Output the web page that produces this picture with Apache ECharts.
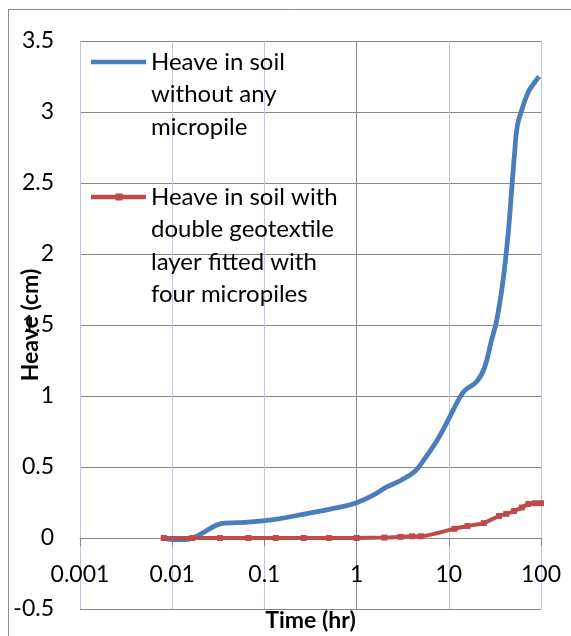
<!DOCTYPE html>
<html><head><meta charset="utf-8">
<script src="https://cdn.jsdelivr.net/npm/echarts@6/dist/echarts.min.js"></script>
<style>html,body{margin:0;padding:0;background:#fff}#c{width:571px;height:636px}</style>
</head><body><div id="c"></div>
<script>
// Series names
const seriesNames = [
  'Heave in soil\nwithout any\nmicropile',
  'Heave in soil with\ndouble geotextile\nlayer fitted with\nfour micropiles'
];
// Blue: heave in soil without any micropile
const blueTime  = [0.0081, 0.01, 0.0135, 0.0168, 0.022, 0.03, 0.037, 0.05, 0.067, 0.136, 0.28, 0.49, 0.8, 1, 1.5, 2.1, 3.0, 4.3, 5.5, 7.5, 10, 12.9, 15, 20, 24.4, 29, 33, 38.5, 44, 48.3, 51.4, 55.3, 61.6, 72.7, 83.4, 95.5];
const blueHeave = [0, -0.012, -0.012, 0, 0.04, 0.09, 0.105, 0.108, 0.112, 0.133, 0.17, 0.2, 0.23, 0.248, 0.3, 0.358, 0.405, 0.47, 0.56, 0.69, 0.84, 0.98, 1.04, 1.1, 1.2, 1.39, 1.53, 1.8, 2.14, 2.47, 2.69, 2.9, 3.01, 3.14, 3.2, 3.25];
// Red: double geotextile layer with four micropiles
const redTime  = [0.0081, 0.0165, 0.033, 0.067, 0.133, 0.267, 0.5, 1, 2, 3, 4, 5, 11.5, 16, 24, 35, 42, 51, 62, 73, 86, 100];
const redHeave = [0, 0, 0, 0, 0, 0, 0, 0, 0.003, 0.008, 0.012, 0.012, 0.065, 0.085, 0.105, 0.155, 0.17, 0.19, 0.215, 0.24, 0.245, 0.245];
// Tick labels
const xTickLabels = ['0.001', '0.01', '0.1', '1', '10', '100'];
const yTickLabels = ['-0.5', '0', '0.5', '1', '1.5', '2', '2.5', '3', '3.5'];

const FONT = 'Lato';
const L = 32.5;
const chart = echarts.init(document.getElementById('c'));
const blueData = blueTime.map((t, i) => [t, blueHeave[i]]);
const redData = redTime.map((t, i) => [t, redHeave[i]]);
const GRAY = '#878787', LB = '#b7c9e8';

// legend icons: bar placed at the first text line of a multi-line block
function barIcon(h, withSquare) {
  const c = L / 2;
  let p = 'path://M0,0 L0.01,0 L0.01,0.01 Z M0,' + h + ' L0.01,' + h + ' L0.01,' + (h - 0.01) + ' Z ' +
    'M0,' + (c - 2.3) + ' L55,' + (c - 2.3) + ' L55,' + (c + 2.3) + ' L0,' + (c + 2.3) + ' Z';
  if (withSquare) p += ' M24.5,' + (c - 3.5) + ' L31.5,' + (c - 3.5) + ' L31.5,' + (c + 3.5) + ' L24.5,' + (c + 3.5) + ' Z';
  return p;
}

chart.setOption({
  animation: false,
  textStyle: { fontFamily: FONT },
  graphic: [{ type: 'rect', shape: { x: 8.5, y: 9.5, width: 700, height: 700 }, style: { fill: 'none', stroke: '#8a8a8a', lineWidth: 1 }, silent: true }],
  grid: { left: 80, right: 30, top: 41, bottom: 27, containLabel: false, outerBoundsMode: 'none' },
  xAxis: {
    type: 'log', logBase: 10, min: 0.001, max: 100,
    name: 'Time (hr)', nameLocation: 'middle', nameGap: 0, nameMoveOverlap: false,
    nameTextStyle: { fontFamily: FONT, fontSize: 23, fontWeight: 'bold', color: '#000' },
    axisLine: { onZero: true, lineStyle: { color: GRAY, width: 1 } },
    axisTick: { show: true, length: 8, lineStyle: { color: GRAY } },
    axisLabel: { margin: -46, fontSize: 23, color: '#000', fontFamily: FONT,
      formatter: v => xTickLabels[Math.round(Math.log10(v)) + 3] },
    splitLine: { show: true, lineStyle: { color: [LB, LB, LB, GRAY, LB, LB], width: 1 } },
    minorTick: { show: false }
  },
  yAxis: {
    type: 'value', min: -0.5, max: 3.5, interval: 0.5,
    name: 'Heave (cm)', nameLocation: 'middle', nameGap: 38, nameMoveOverlap: false,
    nameTextStyle: { fontFamily: FONT, fontSize: 23, fontWeight: 'bold', color: '#000' },
    axisLine: { show: false, onZero: false },
    axisTick: { show: false },
    axisLabel: { margin: 26, fontSize: 23, color: '#000', fontFamily: FONT,
      formatter: v => yTickLabels[Math.round((v + 0.5) / 0.5)] },
    splitLine: { show: true, lineStyle: { color: GRAY, width: 1 } }
  },
  legend: [
    { data: [{ name: seriesNames[0], icon: barIcon(3 * L, false) }],
      left: 91, top: 62 - L / 2, padding: 0, itemWidth: 55, itemHeight: 3 * L, symbolKeepAspect: false,
      itemStyle: { borderWidth: 0 },
      textStyle: { fontFamily: FONT, fontSize: 24, lineHeight: L, color: '#000' } },
    { data: [{ name: seriesNames[1], icon: barIcon(4 * L, true) }],
      left: 91, top: 197 - L / 2, padding: 0, itemWidth: 55, itemHeight: 4 * L, symbolKeepAspect: false,
      itemStyle: { borderWidth: 0 },
      textStyle: { fontFamily: FONT, fontSize: 24, lineHeight: L, color: '#000' } }
  ],
  series: [
    { name: seriesNames[0], type: 'line', data: blueData, smooth: 0.4, symbol: 'none',
      lineStyle: { color: '#4a7ebb', width: 4.8 }, itemStyle: { color: '#4a7ebb' }, z: 2 },
    { name: seriesNames[1], type: 'line', data: redData, smooth: 0.2, symbol: 'rect', symbolSize: 6,
      lineStyle: { color: '#be4b48', width: 4 }, itemStyle: { color: '#be4b48' }, z: 3 }
  ]
});
</script></body></html>
